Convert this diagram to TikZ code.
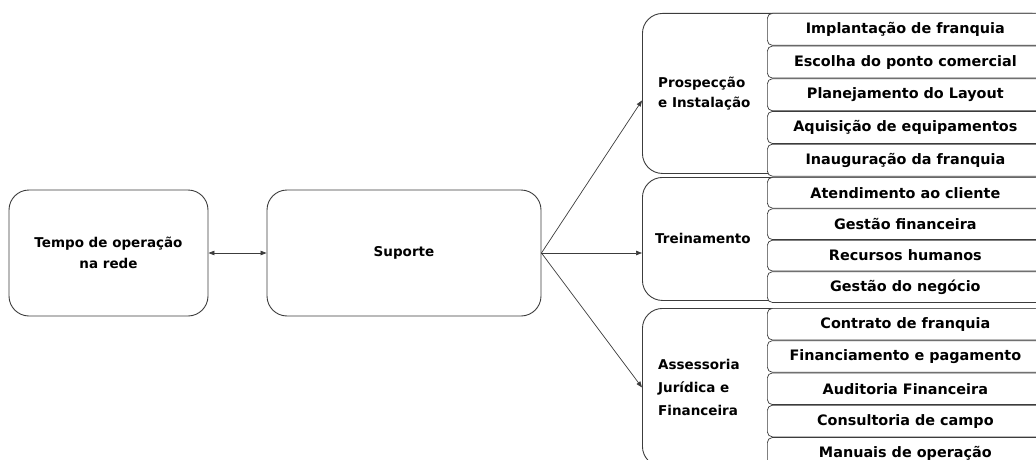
\documentclass[tikz,border=0pt]{standalone}
\usepackage{fontspec}
\setmainfont{DejaVu Sans}
\usepackage{tikz}
\usetikzlibrary{arrows.meta,positioning}
\definecolor{clLine}{HTML}{3C3C3C}
\tikzset{
  box/.style={rectangle, rounded corners=20pt, draw=clLine, line width=0.9pt, align=center,
              inner sep=0pt, font=\fontsize{13.5}{20.5}\selectfont\bfseries},
  main/.style={box, minimum height=126pt},
  group/.style={box, anchor=north west, minimum width=410pt},
  grouplabel/.style={font=\fontsize{13.5}{21}\selectfont\bfseries, align=left, inner sep=0pt, anchor=west},
  item/.style={box, rounded corners=5pt, line width=0.7pt, fill=white, anchor=north west,
               minimum width=276pt, font=\fontsize{14.4}{17}\selectfont\bfseries},
  flow/.style={-{Triangle[length=6pt,width=4.5pt]}, line width=0.7pt, draw=clLine},
  both/.style={flow, {Triangle[length=6pt,width=4.5pt]}-{Triangle[length=6pt,width=4.5pt]}},
}

\begin{document}
\begin{tikzpicture}[x=1pt, y=-1pt, node distance=0pt]
  \useasboundingbox (0,0) rectangle (1036,460);
  \clip (0,0) rectangle (1036,460);
  % left side
  \node[main, minimum width=199pt] (tempo) at (108.5,253) {Tempo de operação\\na rede};
  \node[main, minimum width=274pt] (sup) at (404,253) {Suporte};
  \draw[both] (tempo) -- (sup);

  % groups
  \node[group, minimum height=160pt] (pro) at (642,13) {};
  \node[group, minimum height=123pt] (tre) at (642,177) {};
  \node[group, minimum height=158pt] (ass) at (642,308) {};
  \node[grouplabel, font=\fontsize{13.5}{20}\selectfont\bfseries, right=16pt of pro.west] (proL) {Prospecção\\e Instalação};
  \node[grouplabel, right=13pt of tre.west] (treL) {Treinamento};
  \node[grouplabel, font=\fontsize{13.5}{23}\selectfont\bfseries, right=16pt of ass.west] (assL) {Assessoria\\Jurídica e\\Financeira};
  \draw[flow] (sup.east) -- ([yshift=-7pt]pro.west);
  \draw[flow] (sup.east) -- (tre.west |- sup.east);
  \draw[flow] (sup.east) -- (ass.west);

  % items
  \node[item, minimum height=32pt] (p1) at (767,13) {Implantação de franquia};
  \node[item, minimum height=32pt, below=of p1] (p2) {Escolha do ponto comercial};
  \node[item, minimum height=32pt, below=of p2] (p3) {Planejamento do Layout};
  \node[item, minimum height=32pt, below=of p3] (p4) {Aquisição de equipamentos};
  \node[item, minimum height=32pt, below=of p4] (p5) {Inauguração da franquia};

  \node[item, minimum height=30.75pt] (t1) at (767,177) {Atendimento ao cliente};
  \node[item, minimum height=30.75pt, below=of t1] (t2) {Gestão financeira};
  \node[item, minimum height=30.75pt, below=of t2] (t3) {Recursos humanos};
  \node[item, minimum height=30.75pt, below=of t3] (t4) {Gestão do negócio};

  \node[item, minimum height=31.6pt] (a1) at (767,308) {Contrato de franquia};
  \node[item, minimum height=31.6pt, below=of a1] (a2) {Financiamento e pagamento};
  \node[item, minimum height=31.6pt, below=of a2] (a3) {Auditoria Financeira};
  \node[item, minimum height=31.6pt, below=of a3] (a4) {Consultoria de campo};
  \node[item, minimum height=31.6pt, below=of a4] (a5) {Manuais de operação};
\end{tikzpicture}
\end{document}
